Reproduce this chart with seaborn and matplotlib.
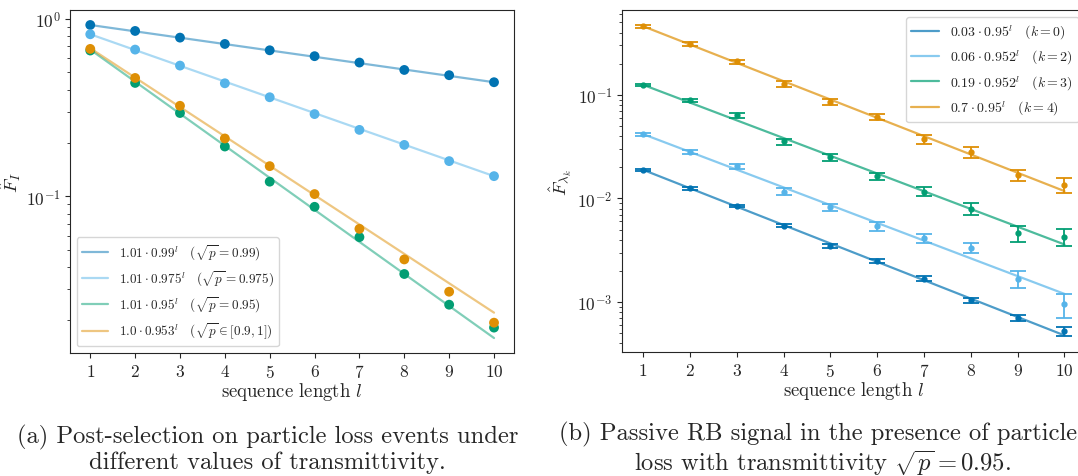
import numpy as np
import pandas as pd
import matplotlib
matplotlib.use('Agg')
import matplotlib.pyplot as plt
import seaborn as sns

# sequence lengths
l_vals = [1, 2, 3, 4, 5, 6, 7, 8, 9, 10]
l_ends = [1, 10]

# (a) post-selection, one series per transmittivity
fa_099 = [0.925, 0.856, 0.785, 0.723, 0.666, 0.617, 0.568, 0.516, 0.482, 0.440]
fa_0975 = [0.820, 0.672, 0.546, 0.434, 0.362, 0.291, 0.237, 0.195, 0.158, 0.130]
fa_095 = [0.664, 0.436, 0.295, 0.191, 0.121, 0.0873, 0.0589, 0.0365, 0.0245, 0.0182]
fa_rand = [0.678, 0.465, 0.324, 0.212, 0.148, 0.103, 0.0656, 0.0441, 0.0290, 0.0194]
# fitted lines (value at l=1 and l=10)
fit_a_099 = [0.925, 0.440]
fit_a_0975 = [0.820, 0.130]
fit_a_095 = [0.672, 0.0159]
fit_a_rand = [0.684, 0.0221]
labels_a = [r'$1.01 \cdot 0.99^l \quad (\sqrt{p} = 0.99)$',
            r'$1.01 \cdot 0.975^l \quad (\sqrt{p} = 0.975)$',
            r'$1.01 \cdot 0.95^l \quad (\sqrt{p} = 0.95)$',
            r'$1.0 \cdot 0.953^l \quad (\sqrt{p} \in [0.9, 1])$']

# (b) passive RB signal per irrep k
fb_k0 = [0.0189, 0.01249, 0.00844, 0.00545, 0.00347, 0.00249, 0.00168, 0.00104, 0.000701, 0.000521]
fb_k2 = [0.0418, 0.0282, 0.0205, 0.01168, 0.00819, 0.00537, 0.00414, 0.00332, 0.00168, 0.00095]
fb_k3 = [0.125, 0.0888, 0.0637, 0.0355, 0.0249, 0.0164, 0.01168, 0.00795, 0.00463, 0.00427]
fb_k4 = [0.46, 0.308, 0.210, 0.127, 0.085, 0.0609, 0.0371, 0.028, 0.0169, 0.01355]
err_k0 = [0.0004, 0.00028, 0.00025, 0.0002, 0.00016, 0.00011, 0.00009, 0.000063, 0.000048, 0.000048]
err_k2 = [0.0015, 0.0013, 0.00125, 0.0009, 0.0007, 0.0005, 0.00041, 0.00037, 0.0003, 0.00025]
err_k3 = [0.0037, 0.0033, 0.0033, 0.0024, 0.0019, 0.0014, 0.0012, 0.0010, 0.00082, 0.00076]
err_k4 = [0.017, 0.014, 0.0095, 0.0078, 0.0059, 0.0042, 0.0035, 0.0033, 0.0021, 0.0022]
fit_b_k0 = [0.0189, 0.000477]
fit_b_k2 = [0.0418, 0.0012]
fit_b_k3 = [0.125, 0.0036]
fit_b_k4 = [0.46, 0.01178]
labels_b = [r'$0.03 \cdot 0.95^l \quad (k = 0)$',
            r'$0.06 \cdot 0.952^l \quad (k = 2)$',
            r'$0.19 \cdot 0.952^l \quad (k = 3)$',
            r'$0.7 \cdot 0.95^l \quad (k = 4)$']

#%%
sns.set_style('ticks')
plt.rcParams['font.family'] = ['cmr10']
plt.rcParams['mathtext.fontset'] = 'cm'
plt.rcParams['axes.formatter.use_mathtext'] = True
plt.rcParams['axes.unicode_minus'] = False

pal = sns.color_palette('colorblind')
cols = [pal[0], pal[9], pal[2], pal[1]]  # dark blue, light blue, green, orange

fig = plt.figure(figsize=(10.78, 4.77), dpi=100)
ax1 = fig.add_axes([0.065, 0.258, 0.412, 0.719])
ax2 = fig.add_axes([0.577, 0.26, 0.430, 0.717])

#%%
# (a)
pts_a = [fa_099, fa_0975, fa_095, fa_rand]
fits_a = [fit_a_099, fit_a_0975, fit_a_095, fit_a_rand]
for pts, fit, c, lab in zip(pts_a, fits_a, cols, labels_a):
    sns.lineplot(x=l_ends, y=fit, color=c, alpha=0.5, lw=1.6, label=lab, ax=ax1)
    sns.scatterplot(x=l_vals, y=pts, color=c, s=50, edgecolor='none', ax=ax1, zorder=3)
ax1.set_yscale('log')
ax1.set_xticks(l_vals)
ax1.set_ylim(0.0131, 1.124)
ax1.set_xlabel(r'sequence length $l$', fontsize=13.5, labelpad=0)
ax1.set_ylabel(r'$\hat{F}_I$', fontsize=13.5, labelpad=2)
ax1.tick_params(labelsize=12.5)
ax1.legend(loc='lower left', fontsize=9.5, frameon=True, framealpha=0.8, edgecolor='0.8')

#%%
# (b)
pts_b = [fb_k0, fb_k2, fb_k3, fb_k4]
errs_b = [err_k0, err_k2, err_k3, err_k4]
fits_b = [fit_b_k0, fit_b_k2, fit_b_k3, fit_b_k4]
for pts, err, fit, c, lab in zip(pts_b, errs_b, fits_b, cols, labels_b):
    sns.lineplot(x=l_ends, y=fit, color=c, alpha=0.7, lw=1.6, label=lab, ax=ax2)
    ax2.errorbar(l_vals, pts, yerr=err, fmt='o', ms=3.5, color=c, capsize=6, elinewidth=1.3,
                 capthick=1.3, zorder=3)
ax2.set_yscale('log')
ax2.set_xticks(l_vals)
ax2.set_ylim(3.3e-4, 0.66)
ax2.set_xlabel(r'sequence length $l$', fontsize=13.5, labelpad=0)
ax2.set_ylabel(r'$\hat{F}_{\lambda_k}$', fontsize=13.5, labelpad=2)
ax2.tick_params(labelsize=12.5)
ax2.legend(loc='upper right', fontsize=10, frameon=True, framealpha=0.8, edgecolor='0.8')

#%%
# captions
fig.text(0.248, 0.057, '(a) Post-selection on particle loss events under\ndifferent values of transmittivity.',
         ha='center', va='center', fontsize=17.7, linespacing=1.08)
fig.text(0.763, 0.057, '(b) Passive RB signal in the presence of particles\nloss with transmittivity $\\sqrt{p} = 0.95$.',
         ha='center', va='center', fontsize=17.7, linespacing=1.08)

fig.savefig('out.png', dpi=100)
